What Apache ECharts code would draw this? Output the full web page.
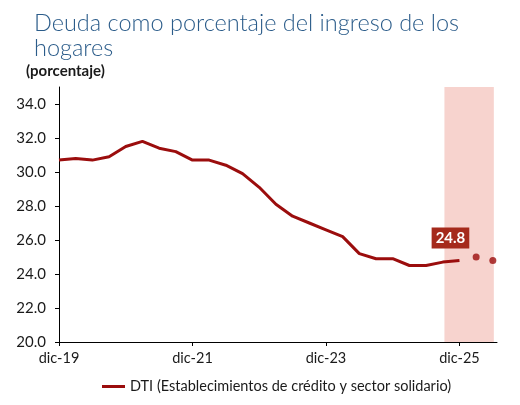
<!DOCTYPE html>
<html><head><meta charset="utf-8">
<script src="https://cdn.jsdelivr.net/npm/echarts@6/dist/echarts.min.js"></script>
<style>html,body{margin:0;padding:0;background:#fff}#c{width:520px;height:405px}</style>
</head><body><div id="c"></div>
<script>
var categories = ['dic-19','mar-20','jun-20','sep-20','dic-20','mar-21','jun-21','sep-21','dic-21','mar-22','jun-22','sep-22','dic-22','mar-23','jun-23','sep-23','dic-23','mar-24','jun-24','sep-24','dic-24','mar-25','jun-25','sep-25','dic-25','mar-26','jun-26'];
var dtiValues = [30.7,30.8,30.7,30.9,31.5,31.8,31.4,31.2,30.7,30.7,30.4,29.9,29.1,28.1,27.4,27.0,26.6,26.2,25.2,24.9,24.9,24.5,24.5,24.7,24.8];
var forecastValues = [25.0,24.8];
var xTickIndex = [0,8,16,24];
var yTicks = [20,22,24,26,28,30,32,34];
var seriesName = 'DTI (Establecimientos de crédito y sector solidario)';

var FONT = 'Lato';
var lineData = dtiValues.map(function(v,i){
  var item = {value:[i,v]};
  if (i === dtiValues.length-1) {
    item.label = {show:true, position:'top', distance:12, offset:[-9,0],
      formatter: function(p){return p.value[1].toFixed(1);},
      color:'#fff', fontWeight:'bold', fontSize:15, fontFamily:FONT,
      backgroundColor:'#A52A1C', padding:[3,4,3,4]};
  }
  return item;
});
var dotData = forecastValues.map(function(v,i){return [dtiValues.length+i, v];});

var chart = echarts.init(document.getElementById('c'), null, {renderer:'canvas'});
chart.setOption({
  animation:false,
  title:{text:'Deuda como porcentaje del ingreso de los\nhogares', left:29, top:6,
    textStyle:{fontFamily:FONT, fontWeight:300, fontSize:23.5, lineHeight:25, color:'#2B5C8A'}},
  graphic:[{type:'text', left:26, top:64, style:{text:'(porcentaje)', font:'bold 15px '+FONT, fill:'#1a1a1a'}}],
  legend:{bottom:6, left:97, data:[seriesName], itemWidth:23, itemHeight:3, icon:'rect', itemGap:5,
    textStyle:{fontFamily:FONT, fontSize:14.5, color:'#1a1a1a'}},
  grid:{left:59, right:23, top:87, bottom:63, containLabel:false},
  xAxis:{type:'value', min:0, max:26.25, interval:8,
    axisLine:{lineStyle:{color:'#000', width:1}},
    axisTick:{show:true, length:4, lineStyle:{color:'#000'}, customValues:xTickIndex},
    axisLabel:{customValues:xTickIndex, formatter:function(v){return categories[v];}, color:'#1a1a1a', fontFamily:FONT, fontSize:14.5, margin:9},
    splitLine:{show:false}},
  yAxis:{type:'value', min:20, max:35, interval:2,
    axisLine:{show:true, lineStyle:{color:'#000', width:1}},
    axisTick:{show:true, length:4, lineStyle:{color:'#000'}, customValues:yTicks},
    axisLabel:{customValues:yTicks, formatter:function(v){return v.toFixed(1);}, color:'#1a1a1a', fontFamily:FONT, fontSize:15, margin:13},
    splitLine:{show:false}},
  series:[
    {name:seriesName, type:'line', data:lineData, showSymbol:true, symbol:'circle', symbolSize:0,
      lineStyle:{color:'#9B0D0D', width:3}, itemStyle:{color:'#9B0D0D'},
      markArea:{silent:true, itemStyle:{color:'#F7D3CE'}, data:[[{xAxis:23.1},{xAxis:26.06}]]},
      z:3},
    {name:'proyeccion', type:'scatter', data:dotData, symbolSize:7, itemStyle:{color:'#9B0D0D'}, z:4}
  ]
});
</script></body></html>
